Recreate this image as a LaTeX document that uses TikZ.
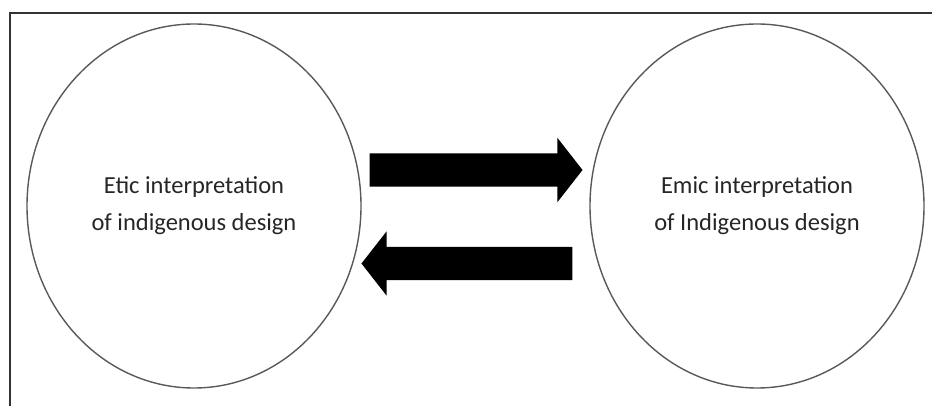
\documentclass[tikz,border=0pt]{standalone}
\usepackage{fontspec}
\setmainfont{Carlito}
\usetikzlibrary{shapes.geometric,shapes.arrows}
\begin{document}
\begin{tikzpicture}[x=1pt,y=-1pt,
  frameline/.style={line width=2pt,draw=black!80},
  bubble/.style={ellipse,draw=black!65,line width=1.4pt,inner sep=0pt,
    minimum width=334pt,minimum height=364pt,align=center,text=black!85,
    font=\fontsize{24.5}{37}\selectfont},
  fatarrow/.style={single arrow,fill=black,draw=none,inner sep=0pt,
    minimum width=64pt,single arrow head extend=15.5pt,
    single arrow tip angle=104,text height=16.5pt,text depth=16.5pt,text width=0pt}]
  \useasboundingbox (0,0) rectangle (932,406);
  % open frame: only the top and left edges fall inside the page
  \draw[frameline] (10,406) -- (10,13) -- (932,13);
  % the two views
  \node[bubble] (etic) at (194,206) {Etic interpretation\\of indigenous design};
  \node[bubble] (emic) at (757,206) {Emic interpretation\\of Indigenous design};
  % exchange between them
  \node[fatarrow,minimum height=213pt] (toemic) at (469.5,170) {};
  \node[fatarrow,minimum height=211pt,shape border rotate=180] (toetic) at (473.5,263.5) {};
\end{tikzpicture}
\end{document}
